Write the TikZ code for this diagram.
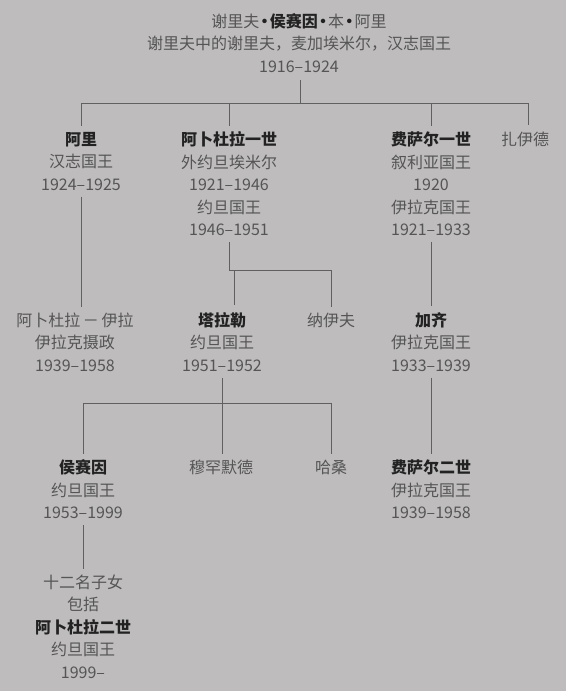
\documentclass[tikz,border=0pt]{standalone}
\usepackage{fontspec}
\setmainfont{Noto Sans CJK SC}
\definecolor{bg}{HTML}{BEBCBC}
\definecolor{txt}{HTML}{555555}
\definecolor{dk}{HTML}{222222}
\definecolor{ln}{HTML}{606060}
\newcommand\kname[1]{{\bfseries\color{dk}#1}}
\newcommand\kdot{\kern-2.8pt{\bfseries\color{dk}·}\kern-2.8pt}
\tikzset{
  person/.style={align=center, inner sep=0pt, outer sep=6pt, text=txt,
    font={\fontsize{16}{22.5}\selectfont}},
  link/.style={draw=ln, line width=0.8pt}
}
\begin{document}
\begin{tikzpicture}[x=1pt,y=-1pt]
\fill[bg] (0,0) rectangle (566,691);
\useasboundingbox (0,0) rectangle (566,691);

\node[person] (title) at (299,43) {谢里夫\kdot\kname{侯赛因}\kdot 本\kdot 阿里\\谢里夫中的谢里夫，麦加埃米尔，汉志国王\\1916–1924};

\node[person] (ali) at (81,161.5) {\kname{阿里}\\汉志国王\\1924–1925};
\node[person] (abd1) at (229,184) {\kname{阿卜杜拉一世}\\外约旦埃米尔\\1921–1946\\约旦国王\\1946–1951};
\node[person] (fai1) at (431,184) {\kname{费萨尔一世}\\叙利亚国王\\1920\\伊拉克国王\\1921–1933};
\node[person] (zaid) at (525,139) {扎伊德};

\node[person] (regent) at (75,342) {阿卜杜拉\,－\,伊拉\\伊拉克摄政\\1939–1958};
\node[person] (talal) at (222,342) {\kname{塔拉勒}\\约旦国王\\1951–1952};
\node[person] (naif) at (331,320) {纳伊夫};
\node[person] (ghazi) at (431,342) {\kname{加齐}\\伊拉克国王\\1933–1939};

\node[person] (huss) at (83,489.5) {\kname{侯赛因}\\约旦国王\\1953–1999};
\node[person] (muh) at (221,467) {穆罕默德};
\node[person] (hasan) at (331,467) {哈桑};
\node[person] (fai2) at (431,489.5) {\kname{费萨尔二世}\\伊拉克国王\\1939–1958};

\node[person] (kids) at (83,626.5) {十二名子女\\包括\\\kname{阿卜杜拉二世}\\约旦国王\\1999–};

% buses
\coordinate (b1L) at (81,103);
\coordinate (b1R) at (528,103);
\coordinate (b2L) at (229,270);
\coordinate (b2R) at (331,270);
\coordinate (b3L) at (83,403);
\coordinate (b3R) at (331,403);
\coordinate (b1z) at (528,125);
\coordinate (b2t) at (234,305);
\coordinate (tv) at (300,80);

\draw[link] (b1L) -- (b1R);
\draw[link] (tv) -- (tv |- b1L);
\draw[link] (b1L) -- (ali.north);
\draw[link] (abd1.north |- b1L) -- (abd1.north);
\draw[link] (fai1.north |- b1L) -- (fai1.north);
\draw[link] (b1R) -- (b1z);

\draw[link] (ali.south) -- (ali.south |- regent.north);

\draw[link] (abd1.south) -- (b2L) -- (b2R) -- (naif.north);
\draw[link] (b2t |- b2L) -- (b2t);

\draw[link] (fai1.south) -- (fai1.south |- ghazi.north);

\draw[link] (talal.south) -- (talal.south |- muh.north);
\draw[link] (b3L) -- (b3R) -- (hasan.north);
\draw[link] (b3L) -- (huss.north);

\draw[link] (ghazi.south) -- (fai2.north);
\draw[link] (huss.south) -- (kids.north);
\end{tikzpicture}
\end{document}
